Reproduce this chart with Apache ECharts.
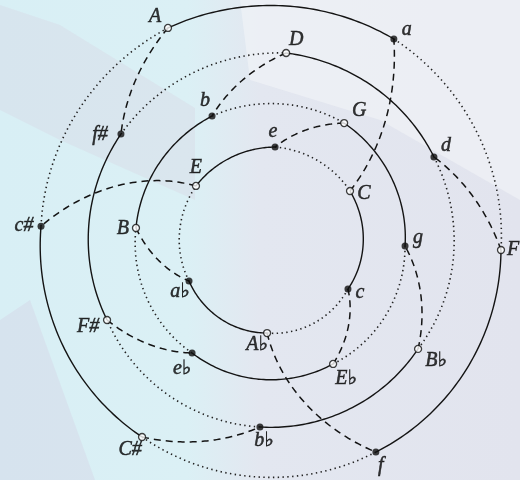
<!DOCTYPE html>
<html>
<head>
<meta charset="utf-8">
<script src="https://cdn.jsdelivr.net/npm/echarts@6/dist/echarts.min.js"></script>
<style>
html, body { margin: 0; padding: 0; }
#chartmain { width: 520px; height: 480px; }
</style>
</head>
<body>
<div id="chartmain"></div>
<script>
// keys in circle-of-fifths order, major and their parallel minors
var majorKeys = ['A', 'D', 'G', 'C', 'F', 'B♭', 'E♭', 'A♭', 'C#', 'F#', 'B', 'E'];
var majorAngle = [115.1, 85.9, 60.4, 37.1, 0.0, 325.9, 298.2, 266.6, 235.2, 203.0, 170.8, 139.9];
var majorRadius = [245.2, 197.5, 146.0, 97.8, 229.0, 176.4, 129.3, 83.2, 227.7, 179.2, 137.8, 99.4];

var minorKeys = ['a', 'd', 'g', 'c', 'f', 'b♭', 'e♭', 'a♭', 'c#', 'f#', 'b', 'e'];
var minorAngle = [60.0, 29.9, 1.7, 332.8, 297.2, 266.1, 232.2, 200.5, 174.1, 142.5, 114.1, 88.3];
var minorRadius = [243.7, 186.8, 133.1, 85.4, 227.2, 177.4, 130.4, 88.6, 232.2, 190.4, 146.8, 103.0];

// label placement (offset from the point)
var majorLabelOff = [[-13, -11], [10, -13], [15, -12], [14, 3], [12, 0], [18, 12], [13, 15], [-10, 12], [-12, 13], [-19, 7], [-13, 1], [0, -18]];
var minorLabelOff = [[13, -9], [12, -11], [13, -8], [12, 4], [5, 14], [4, 14], [-10, 16], [-9, 11], [-17, 0], [-21, 1], [-7, -15], [-2, -15]];

// links: 0 = parallel (solid), 1 = relative (dashed), 2 = mediant (dotted)
var links = [];
for (var i = 0; i < 12; i++) {
	links.push([majorRadius[i], majorAngle[i], minorRadius[i], minorAngle[i], 0]);
	var rel = (i + 9) % 12;
	links.push([majorRadius[i], majorAngle[i], minorRadius[rel], minorAngle[rel], 1]);
	var med = (i + 4) % 12;
	links.push([minorRadius[i], minorAngle[i], majorRadius[med], majorAngle[med], 2]);
}

var labelFont = {
	fontFamily: '"Liberation Serif", "DejaVu Serif", serif',
	fontStyle: 'italic',
	fontSize: 20,
	color: '#050505',
	textBorderColor: '#050505',
	textBorderWidth: 0.5
};

function pointData(names, ang, rad, off) {
	var out = [];
	for (var i = 0; i < names.length; i++) {
		out.push({
			name: names[i],
			value: [rad[i], ang[i]],
			label: { offset: off[i] }
		});
	}
	return out;
}

var option = {
	backgroundColor: {
		type: 'linear', x: 0, y: 0, x2: 1, y2: 0,
		colorStops: [
			{ offset: 0, color: '#d8eff5' },
			{ offset: 0.36, color: '#dbf0f5' },
			{ offset: 0.5, color: '#e3e7f0' },
			{ offset: 1, color: '#e2e4ee' }
		]
	},
	graphic: [
		{ type: 'polygon', z: -10, shape: { points: [[0, 5], [60, 25], [195, 108], [195, 200], [60, 140], [0, 110]] }, style: { fill: 'rgba(215,195,215,0.22)' } },
		{ type: 'polygon', z: -10, shape: { points: [[240, 0], [520, 0], [520, 200], [380, 120], [250, 80]] }, style: { fill: 'rgba(246,247,249,0.5)' } },
		{ type: 'polygon', z: -10, shape: { points: [[0, 320], [30, 300], [95, 480], [0, 480]] }, style: { fill: 'rgba(212,205,225,0.35)' } }
	],
	polar: {
		center: [272, 250],
		radius: 260
	},
	angleAxis: {
		type: 'value', min: 0, max: 360, startAngle: 0, clockwise: false, show: false
	},
	radiusAxis: {
		type: 'value', min: 0, max: 260, show: false
	},
	series: [
		{
			type: 'custom',
			coordinateSystem: 'polar',
			dimensions: ['r1', 'a1', 'r2', 'a2', 'kind'],
			encode: { radius: 0, angle: 1 },
			silent: true,
			z: 1,
			data: links,
			renderItem: function (params, api) {
				var r1 = api.value(0), a1 = api.value(1);
				var r2 = api.value(2), a2 = api.value(3);
				var kind = api.value(4);
				var d = ((a2 - a1 + 540) % 360) - 180;
				var pts = [];
				var n = 60;
				for (var k = 0; k <= n; k++) {
					var t = k / n;
					var ang = a1 + d * t;
					ang = ((ang % 360) + 360) % 360;
					pts.push(api.coord([r1 + (r2 - r1) * t, ang]));
				}
				var style = { fill: null, stroke: '#141414', lineWidth: 1.4 };
				if (kind === 1) {
					style.lineDash = [7, 5];
					style.lineWidth = 1.5;
				} else if (kind === 2) {
					style.lineDash = [1.4, 3.4];
					style.lineWidth = 1.6;
					style.stroke = '#222222';
				}
				return { type: 'polyline', shape: { points: pts }, style: style };
			}
		},
		{
			type: 'scatter',
			coordinateSystem: 'polar',
			z: 5,
			symbol: 'circle',
			symbolSize: 7,
			itemStyle: { color: '#ffffff', borderColor: '#111111', borderWidth: 1.3 },
			label: Object.assign({ show: true, position: 'inside', formatter: '{b}' }, labelFont),
			data: pointData(majorKeys, majorAngle, majorRadius, majorLabelOff)
		},
		{
			type: 'scatter',
			coordinateSystem: 'polar',
			z: 6,
			symbol: 'circle',
			symbolSize: 7,
			itemStyle: { color: '#0e0e0e' },
			label: Object.assign({ show: true, position: 'inside', formatter: '{b}' }, labelFont),
			data: pointData(minorKeys, minorAngle, minorRadius, minorLabelOff)
		}
	]
};

var myChart = echarts.init(document.getElementById('chartmain'));
myChart.setOption(option);
</script>
</body>
</html>
